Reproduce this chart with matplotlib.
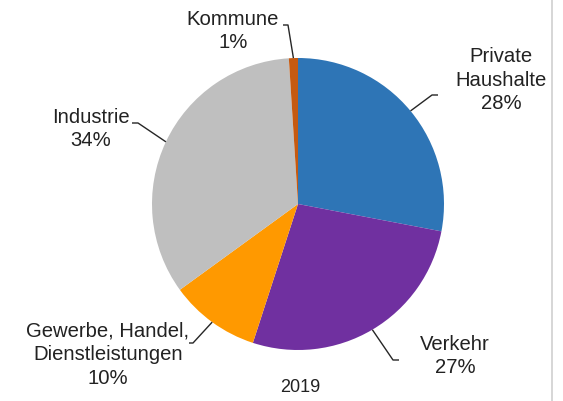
import numpy as np
import matplotlib
matplotlib.use("Agg")
import matplotlib.pyplot as plt

plt.rcParams['font.family'] = ['Liberation Sans', 'DejaVu Sans']

categories = ["Private\nHaushalte", "Verkehr", "Gewerbe, Handel,\nDienstleistungen", "Industrie", "Kommune"]
values = [28, 27, 10, 34, 1]
colors = ["#2E75B6", "#7030A0", "#FF9900", "#BFBFBF", "#C55A11"]
year_label = "2019"

W, H = 563, 401
fig = plt.figure(figsize=(W / 100, H / 100), dpi=100)
ax = fig.add_axes([0, 0, 1, 1])

cx, cy, R = 298, H - 204, 146
wedges, _ = ax.pie(values, colors=colors, startangle=90, counterclock=False,
                   center=(cx, cy), radius=R, wedgeprops=dict(linewidth=0),
                   frame=True)
ax.set_xlim(0, W)
ax.set_ylim(0, H)
ax.set_aspect('equal')
ax.axis('off')

# label layout in pixel coords: (text center x, text block center y, elbow x, elbow y, end x)
layout = [
    (501, 80, 432, 95, 438),    # Private Haushalte
    (455, 356, 393, 360, 399),  # Verkehr
    (108, 355, 193, 343, 189),  # Gewerbe
    (91, 129, 138, 123, 132),   # Industrie
    (233, 31, 288, 25, 283),    # Kommune
]

txtcol = "#222222"
fs = 14.6
for w, cat, v, (tx, ty, ex, ey, endx) in zip(wedges, categories, values, layout):
    mid = np.deg2rad((w.theta1 + w.theta2) / 2)
    px = cx + R * np.cos(mid)
    py = cy + R * np.sin(mid)
    ax.plot([px, ex, endx], [py, H - ey, H - ey], color="#262626", lw=1.0,
            solid_capstyle='butt', zorder=3)
    label = f"{cat}\n{v}%"
    ax.text(tx, H - ty, label, ha='center', va='center', fontsize=fs,
            color=txtcol, linespacing=1.33)

ax.text(cx + 2, H - 387, year_label, ha='center', va='center', fontsize=13, color=txtcol)

# right border line
fig.add_artist(plt.Line2D([552 / W, 552 / W], [0, 1], color="#D0D0D0", lw=1.2))

fig.savefig("out.png", dpi=100)
